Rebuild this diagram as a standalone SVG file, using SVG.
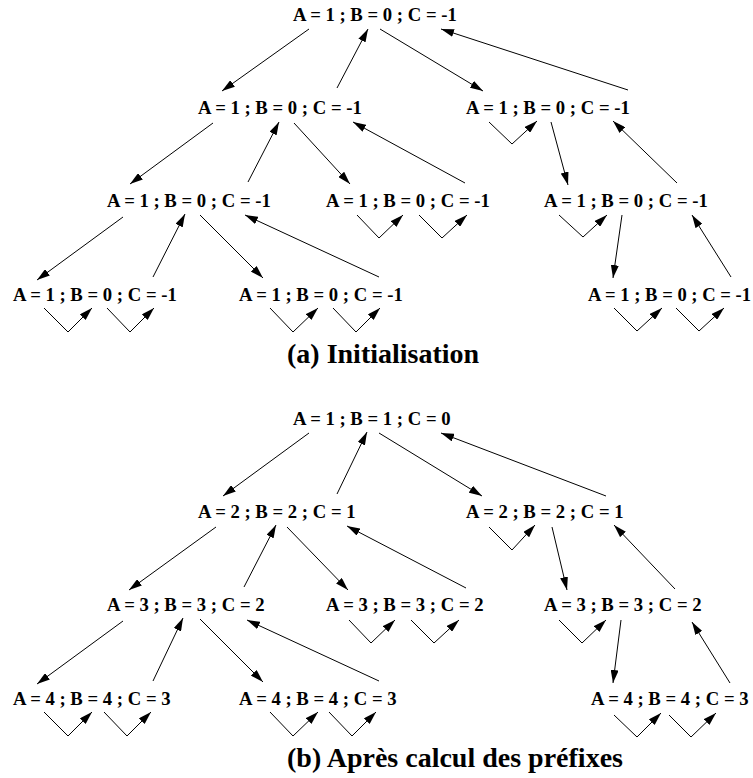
<svg xmlns="http://www.w3.org/2000/svg" width="753" height="778" viewBox="0 0 753 778">
  <style>
    .lbl { font-family: "Liberation Serif", "Times New Roman", serif; font-weight: bold; font-size: 18.7px; fill: #000; }
    .cap { font-family: "Liberation Serif", "Times New Roman", serif; font-weight: bold; font-size: 28px; fill: #000; }
    .ed { fill: none; stroke: #000; stroke-width: 1; marker-end: url(#ah); }
  </style>
  <defs>
    <marker id="ah" markerWidth="13" markerHeight="8" refX="13" refY="4" orient="auto" markerUnits="userSpaceOnUse">
      <path d="M0,0 L13,4 L0,8 z" fill="#000"/>
    </marker>
  </defs>
  <rect width="753" height="778" fill="#fff"/>

  <!-- (a) Initialisation -->
  <g id="tree-a">
    <g id="a-n0"><text class="lbl" x="293" y="21">A = 1 ; B = 0 ; C = -1</text></g>
    <g id="a-n1"><text class="lbl" x="198" y="114">A = 1 ; B = 0 ; C = -1</text></g>
    <g id="a-n2"><text class="lbl" x="466" y="114">A = 1 ; B = 0 ; C = -1</text></g>
    <g id="a-n3"><text class="lbl" x="107" y="207">A = 1 ; B = 0 ; C = -1</text></g>
    <g id="a-n4"><text class="lbl" x="326" y="207">A = 1 ; B = 0 ; C = -1</text></g>
    <g id="a-n5"><text class="lbl" x="544" y="207">A = 1 ; B = 0 ; C = -1</text></g>
    <g id="a-n6"><text class="lbl" x="13" y="301">A = 1 ; B = 0 ; C = -1</text></g>
    <g id="a-n7"><text class="lbl" x="239" y="301">A = 1 ; B = 0 ; C = -1</text></g>
    <g id="a-n8"><text class="lbl" x="588" y="301" textLength="163" lengthAdjust="spacingAndGlyphs">A = 1 ; B = 0 ; C = -1</text></g>
    <g id="a-edges">
      <line class="ed" x1="309" y1="29" x2="222" y2="91"/>
      <line class="ed" x1="337" y1="88" x2="368" y2="29"/>
      <line class="ed" x1="380" y1="29" x2="483" y2="91"/>
      <line class="ed" x1="628" y1="90" x2="441" y2="29"/>
      <line class="ed" x1="213" y1="123" x2="130" y2="184"/>
      <line class="ed" x1="248" y1="182" x2="279" y2="122"/>
      <line class="ed" x1="294" y1="123" x2="350" y2="184"/>
      <line class="ed" x1="465" y1="183" x2="353" y2="122"/>
      <polyline class="ed" points="489,122 512,144 537,121"/>
      <line class="ed" x1="551" y1="122" x2="568" y2="185"/>
      <line class="ed" x1="677" y1="183" x2="613" y2="121"/>
      <line class="ed" x1="123" y1="217" x2="37" y2="280"/>
      <line class="ed" x1="153" y1="277" x2="185" y2="214"/>
      <line class="ed" x1="200" y1="215" x2="263" y2="278"/>
      <line class="ed" x1="379" y1="277" x2="245" y2="215"/>
      <polyline class="ed" points="357,215 379,238 403,215"/>
      <polyline class="ed" points="419,215 442,238 467,215"/>
      <polyline class="ed" points="559,215 583,237 607,215"/>
      <line class="ed" x1="622" y1="215" x2="613" y2="278"/>
      <line class="ed" x1="731" y1="277" x2="692" y2="215"/>
      <polyline class="ed" points="44,308 68,332 92,308"/>
      <polyline class="ed" points="107,308 130,332 154,308"/>
      <polyline class="ed" points="270,308 293,332 318,308"/>
      <polyline class="ed" points="333,308 356,332 380,308"/>
      <polyline class="ed" points="614,308 637,331 662,308"/>
      <polyline class="ed" points="676,308 699,331 724,308"/>
    </g>
    <text class="cap" x="287" y="363">(a) Initialisation</text>
  </g>

  <!-- (b) Après calcul des préfixes -->
  <g id="tree-b" transform="translate(0,404)">
    <g id="b-n0"><text class="lbl" x="293" y="21">A = 1 ; B = 1 ; C = 0</text></g>
    <g id="b-n1"><text class="lbl" x="198" y="114">A = 2 ; B = 2 ; C = 1</text></g>
    <g id="b-n2"><text class="lbl" x="466" y="114">A = 2 ; B = 2 ; C = 1</text></g>
    <g id="b-n3"><text class="lbl" x="107" y="207">A = 3 ; B = 3 ; C = 2</text></g>
    <g id="b-n4"><text class="lbl" x="326" y="207">A = 3 ; B = 3 ; C = 2</text></g>
    <g id="b-n5"><text class="lbl" x="544" y="207">A = 3 ; B = 3 ; C = 2</text></g>
    <g id="b-n6"><text class="lbl" x="13" y="301">A = 4 ; B = 4 ; C = 3</text></g>
    <g id="b-n7"><text class="lbl" x="239" y="301">A = 4 ; B = 4 ; C = 3</text></g>
    <g id="b-n8"><text class="lbl" x="591" y="301">A = 4 ; B = 4 ; C = 3</text></g>
    <g id="b-edges">
      <line class="ed" x1="309" y1="29" x2="223" y2="92"/>
      <line class="ed" x1="337" y1="90" x2="367" y2="28"/>
      <line class="ed" x1="379" y1="29" x2="482" y2="92"/>
      <line class="ed" x1="606" y1="92" x2="441" y2="29"/>
      <line class="ed" x1="216" y1="123" x2="129" y2="186"/>
      <line class="ed" x1="244" y1="183" x2="276" y2="121"/>
      <line class="ed" x1="287" y1="123" x2="348" y2="186"/>
      <line class="ed" x1="466" y1="184" x2="347" y2="122"/>
      <polyline class="ed" points="489,123 512,146 535,121"/>
      <line class="ed" x1="552" y1="123" x2="567" y2="186"/>
      <line class="ed" x1="675" y1="185" x2="614" y2="121"/>
      <line class="ed" x1="123" y1="217" x2="37" y2="280"/>
      <line class="ed" x1="153" y1="277" x2="183" y2="214"/>
      <line class="ed" x1="200" y1="215" x2="263" y2="278"/>
      <line class="ed" x1="379" y1="277" x2="247" y2="216"/>
      <polyline class="ed" points="349,216 371,239 395,216"/>
      <polyline class="ed" points="411,216 434,239 459,216"/>
      <polyline class="ed" points="559,216 582,239 606,216"/>
      <line class="ed" x1="621" y1="216" x2="613" y2="279"/>
      <line class="ed" x1="730" y1="279" x2="692" y2="218"/>
      <polyline class="ed" points="44,308 68,332 92,308"/>
      <polyline class="ed" points="104,308 127,332 151,308"/>
      <polyline class="ed" points="270,308 293,332 318,308"/>
      <polyline class="ed" points="329,308 352,332 376,308"/>
      <polyline class="ed" points="614,311 637,333 661,309"/>
      <polyline class="ed" points="669,311 691,333 716,309"/>
    </g>
    <text class="cap" x="287" y="363">(b) Après calcul des préfixes</text>
  </g>
</svg>
